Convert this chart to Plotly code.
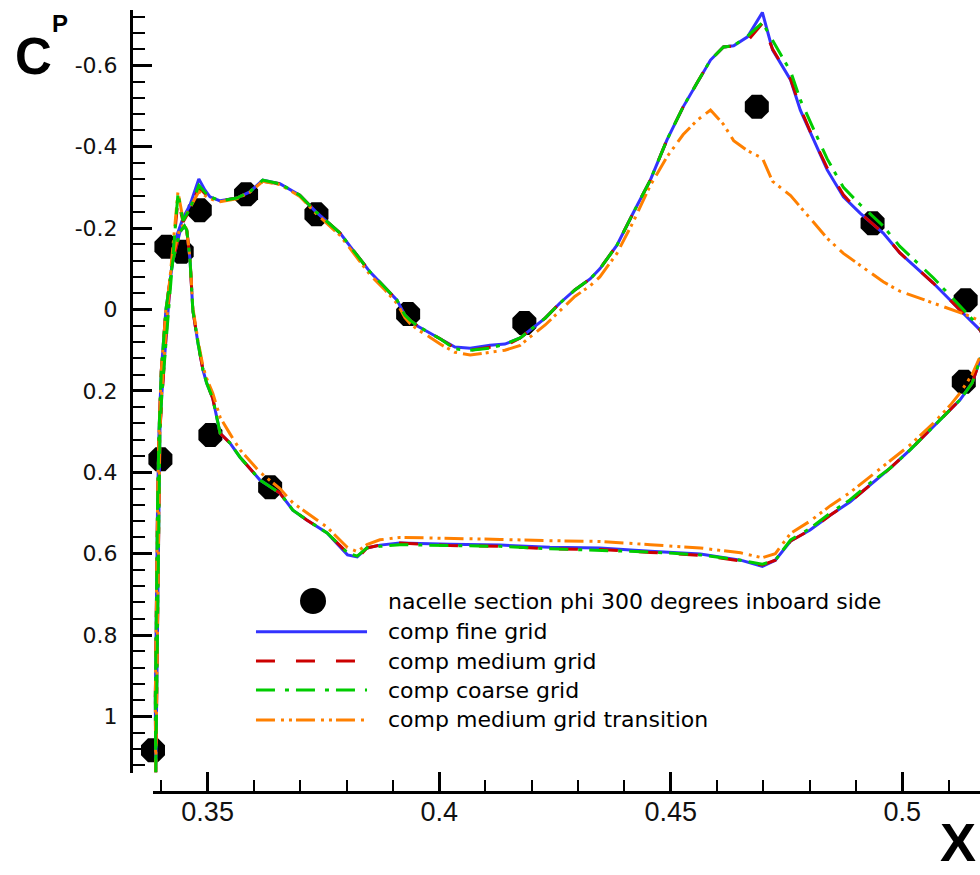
import plotly.graph_objects as go

# ---------------------------------------------------------------
# Pressure coefficient around the nacelle section, phi = 300 deg
# ---------------------------------------------------------------

# measured points
EXP_X = [0.3382, 0.3398, 0.3411, 0.3444, 0.3483, 0.3506, 0.3583, 0.3635,
         0.3735, 0.3933, 0.4184, 0.4686, 0.4936, 0.5133, 0.5137]
EXP_CP = [1.083, 0.368, -0.154, -0.142, -0.244, 0.3085, -0.283, 0.437,
          -0.234, 0.011, 0.033, -0.4985, -0.212, 0.1775, -0.023]

# suction side stations (leading edge -> trailing edge)
UPPER_X = [0.3388, 0.3390, 0.3393, 0.3395, 0.3397, 0.3401, 0.3410, 0.3419,
           0.3427, 0.3436, 0.3447, 0.3462, 0.3481, 0.3494, 0.3505, 0.3527,
           0.3563, 0.3591, 0.3619, 0.3656, 0.3699, 0.3734, 0.3786, 0.3814,
           0.3851, 0.3883, 0.3909, 0.3926, 0.3937, 0.3954, 0.3980, 0.4002,
           0.4034, 0.4067, 0.4110, 0.4142, 0.4175, 0.4196, 0.4229, 0.4261,
           0.4293, 0.4326, 0.4347, 0.4384, 0.4419, 0.4456, 0.4492, 0.4527,
           0.4557, 0.4586, 0.4614, 0.4636, 0.4666, 0.4698, 0.4720, 0.4759,
           0.4780, 0.4808, 0.4838, 0.4873, 0.4909, 0.4959, 0.4995, 0.5067,
           0.5136, 0.5168, 0.5185]

FINE_UPPER = [1.137, 0.960, 0.714, 0.468, 0.296, 0.210, 0.068, -0.065,
              -0.159, -0.190, -0.225, -0.257, -0.321, -0.294, -0.277, -0.267,
              -0.274, -0.289, -0.318, -0.309, -0.281, -0.240, -0.188, -0.146,
              -0.092, -0.055, -0.023, 0.014, 0.026, 0.041, 0.058, 0.072,
              0.092, 0.095, 0.088, 0.085, 0.070, 0.050, 0.021, -0.016,
              -0.048, -0.075, -0.100, -0.158, -0.237, -0.318, -0.417, -0.498,
              -0.557, -0.613, -0.645, -0.648, -0.670, -0.730, -0.638, -0.564,
              -0.490, -0.417, -0.343, -0.277, -0.237, -0.188, -0.139, -0.065,
              0.014, 0.050, 0.087]

MEDIUM_UPPER = [1.137, 0.960, 0.714, 0.468, 0.296, 0.210, 0.068, -0.065,
                -0.159, -0.270, -0.215, -0.245, -0.300, -0.285, -0.277, -0.267,
                -0.274, -0.289, -0.315, -0.309, -0.281, -0.240, -0.188, -0.146,
                -0.092, -0.055, -0.023, 0.014, 0.026, 0.041, 0.058, 0.072,
                0.095, 0.100, 0.093, 0.090, 0.070, 0.050, 0.021, -0.016,
                -0.048, -0.075, -0.100, -0.158, -0.237, -0.318, -0.417, -0.498,
                -0.557, -0.613, -0.645, -0.648, -0.660, -0.703, -0.640, -0.566,
                -0.495, -0.420, -0.348, -0.282, -0.237, -0.188, -0.139, -0.065,
                0.014, 0.050, 0.087]

COARSE_UPPER = [1.137, 0.960, 0.714, 0.468, 0.296, 0.210, 0.068, -0.065,
                -0.159, -0.285, -0.218, -0.248, -0.305, -0.288, -0.277, -0.267,
                -0.274, -0.289, -0.318, -0.309, -0.281, -0.240, -0.188, -0.146,
                -0.092, -0.055, -0.023, 0.014, 0.026, 0.041, 0.058, 0.072,
                0.097, 0.100, 0.095, 0.085, 0.070, 0.050, 0.021, -0.016,
                -0.048, -0.075, -0.100, -0.158, -0.237, -0.318, -0.417, -0.498,
                -0.557, -0.613, -0.645, -0.648, -0.672, -0.705, -0.660, -0.585,
                -0.515, -0.445, -0.370, -0.300, -0.258, -0.205, -0.155, -0.078,
                0.005, 0.045, 0.087]

TRANSITION_UPPER = [1.137, 0.960, 0.714, 0.468, 0.296, 0.200, 0.050, -0.080,
                    -0.180, -0.290, -0.220, -0.250, -0.290, -0.280, -0.272, -0.265,
                    -0.272, -0.288, -0.315, -0.307, -0.278, -0.236, -0.182, -0.140,
                    -0.085, -0.048, -0.015, 0.020, 0.034, 0.050, 0.068, 0.085,
                    0.105, 0.112, 0.105, 0.100, 0.088, 0.068, 0.038, 0.002,
                    -0.032, -0.058, -0.080, -0.138, -0.215, -0.305, -0.375, -0.430,
                    -0.465, -0.490, -0.455, -0.415, -0.390, -0.372, -0.315, -0.280,
                    -0.253, -0.215, -0.175, -0.138, -0.110, -0.068, -0.045, -0.015,
                    0.012, 0.028, 0.075]

# pressure side stations (leading edge -> trailing edge)
LOWER_X = [0.3388, 0.3387, 0.3389, 0.3392, 0.3395, 0.3400, 0.3410, 0.3425,
           0.3440, 0.3450, 0.3455, 0.3462, 0.3468, 0.3479, 0.3490, 0.3498,
           0.3511, 0.3527, 0.3548, 0.3570, 0.3613, 0.3656, 0.3684, 0.3714,
           0.3758, 0.3802, 0.3823, 0.3844, 0.3872, 0.3915, 0.4023, 0.4132,
           0.4239, 0.4347, 0.4456, 0.4564, 0.4651, 0.4698, 0.4726, 0.4759,
           0.4801, 0.4845, 0.4887, 0.4931, 0.4974, 0.5017, 0.5067, 0.5104,
           0.5125, 0.5151, 0.5168, 0.5185]

FINE_LOWER = [1.137, 0.960, 0.714, 0.468, 0.300, 0.150, 0.000, -0.120,
              -0.190, -0.205, -0.195, -0.122, 0.001, 0.082, 0.149, 0.181,
              0.218, 0.304, 0.328, 0.363, 0.419, 0.451, 0.493, 0.517,
              0.549, 0.603, 0.608, 0.586, 0.579, 0.574, 0.577, 0.579,
              0.584, 0.586, 0.594, 0.601, 0.616, 0.631, 0.616, 0.569,
              0.542, 0.505, 0.473, 0.431, 0.390, 0.345, 0.289, 0.247,
              0.222, 0.181, 0.124, 0.087]

MEDIUM_LOWER = [1.137, 0.960, 0.714, 0.468, 0.300, 0.150, 0.000, -0.120,
                -0.190, -0.205, -0.195, -0.122, 0.001, 0.082, 0.149, 0.181,
                0.218, 0.304, 0.328, 0.363, 0.419, 0.451, 0.493, 0.517,
                0.549, 0.598, 0.612, 0.586, 0.579, 0.574, 0.580, 0.582,
                0.588, 0.590, 0.597, 0.604, 0.618, 0.628, 0.616, 0.569,
                0.542, 0.505, 0.473, 0.431, 0.390, 0.345, 0.289, 0.247,
                0.222, 0.181, 0.124, 0.087]

COARSE_LOWER = [1.137, 0.960, 0.714, 0.468, 0.300, 0.150, 0.000, -0.120,
                -0.190, -0.205, -0.195, -0.122, 0.001, 0.082, 0.149, 0.181,
                0.218, 0.304, 0.328, 0.363, 0.419, 0.451, 0.493, 0.517,
                0.549, 0.598, 0.606, 0.586, 0.582, 0.578, 0.580, 0.582,
                0.588, 0.592, 0.596, 0.603, 0.616, 0.626, 0.616, 0.566,
                0.538, 0.500, 0.468, 0.426, 0.390, 0.345, 0.289, 0.247,
                0.222, 0.181, 0.124, 0.087]

TRANSITION_LOWER = [1.137, 0.960, 0.714, 0.468, 0.300, 0.150, 0.000, -0.130,
                    -0.200, -0.210, -0.195, -0.125, -0.005, 0.075, 0.140, 0.170,
                    0.205, 0.265, 0.305, 0.345, 0.400, 0.440, 0.475, 0.500,
                    0.535, 0.585, 0.595, 0.578, 0.566, 0.560, 0.562, 0.565,
                    0.568, 0.570, 0.578, 0.586, 0.598, 0.610, 0.600, 0.550,
                    0.520, 0.482, 0.450, 0.410, 0.372, 0.333, 0.280, 0.235,
                    0.205, 0.160, 0.116, 0.075]

SERIES = [
    ("comp fine grid", FINE_UPPER, FINE_LOWER, "#3333ff", "solid"),
    ("comp medium grid", MEDIUM_UPPER, MEDIUM_LOWER, "#cc0000", "19px,21px"),
    ("comp medium grid transition", TRANSITION_UPPER, TRANSITION_LOWER,
     "#ff8000", "19px,6px,3px,5px,3px,4px"),
    ("comp coarse grid", COARSE_UPPER, COARSE_LOWER, "#00cc00",
     "19px,10px,4px,7px"),
]

EXP_NAME = "nacelle section phi 300 degrees inboard side"
LEGEND_ORDER = [
    ("comp fine grid", "#3333ff", "solid"),
    ("comp medium grid", "#cc0000", "19px,21px"),
    ("comp coarse grid", "#00cc00", "19px,10px,4px,7px"),
    ("comp medium grid transition", "#ff8000", "19px,6px,3px,5px,3px,4px"),
]

fig = go.Figure()

fig.add_trace(go.Scatter(
    x=EXP_X, y=EXP_CP, mode="markers", name=EXP_NAME, cliponaxis=False,
    marker=dict(symbol="octagon", size=26, color="black",
                line=dict(width=0)),
))

# closed loop: suction side from trailing edge back to the nose,
# then pressure side out to the trailing edge
for name, up, lo, color, dash in SERIES:
    fig.add_trace(go.Scatter(
        x=UPPER_X[::-1] + LOWER_X[1:],
        y=up[::-1] + lo[1:],
        mode="lines", name=name,
        line=dict(color=color, width=3, dash=dash),
    ))

MINUS = "\u2212"
fig.update_layout(
    width=980, height=875,
    margin=dict(l=131, r=0, t=10, b=83, pad=0),
    showlegend=False,
    plot_bgcolor="white", paper_bgcolor="white",
    xaxis=dict(
        domain=[0.0259, 1], range=[0.3382, 0.5168],
        anchor="free", position=0,
        showline=True, linecolor="black", linewidth=3,
        ticks="inside", ticklen=19, tickwidth=3, tickcolor="black",
        tick0=0, dtick=0.05,
        tickfont=dict(family="Liberation Sans, Arial", size=27, color="#111"),
        ticklabelstandoff=-5,
        showgrid=False, zeroline=False,
        minor=dict(dtick=0.01, ticks="inside", ticklen=11, tickwidth=1.5,
                   tickcolor="black", showgrid=False),
    ),
    yaxis=dict(
        domain=[0.0243, 1], range=[1.139, -0.736],
        anchor="free", position=0,
        showline=True, linecolor="black", linewidth=3,
        ticks="inside", ticklen=19, tickwidth=3, tickcolor="black",
        tick0=0, dtick=0.2,
        labelalias={MINUS + "0.6": "-0.6", MINUS + "0.4": "-0.4",
                    MINUS + "0.2": "-0.2"},
        tickfont=dict(family="DejaVu Sans", size=22, color="#111"),
        ticklabelstandoff=8,
        showgrid=False, zeroline=False,
        minor=dict(dtick=0.04, ticks="inside", ticklen=12, tickwidth=1.5,
                   tickcolor="black", showgrid=False),
    ),
)

# axis titles
fig.add_annotation(text="<b>C</b>", xref="paper", yref="paper",
                   x=-0.1143, y=0.9405, xanchor="center", yanchor="middle",
                   showarrow=False,
                   font=dict(family="Liberation Sans, Arial", size=51,
                             color="black"))
fig.add_annotation(text="<b>P</b>", xref="paper", yref="paper",
                   x=-0.0842, y=0.9827, xanchor="center", yanchor="middle",
                   showarrow=False,
                   font=dict(family="Liberation Sans, Arial", size=24,
                             color="black"))
fig.add_annotation(text="<b>X</b>", xref="paper", yref="paper",
                   x=0.998, y=-0.1049, xanchor="right", yanchor="bottom",
                   showarrow=False,
                   font=dict(family="Liberation Sans, Arial", size=54,
                             color="black"))

# legend block
LEG_FONT = dict(family="DejaVu Sans", size=22, color="black")
LEG_TEXT_X = 0.300
LEG_LINE_X = (0.1472, 0.2780)
LEG_ROWS = [0.2434, 0.2050, 0.1675, 0.1304, 0.0921]

fig.add_shape(type="circle", xref="paper", yref="paper",
              x0=0.1991, x1=0.2297, y0=0.2276, y1=0.2609,
              fillcolor="black", line=dict(width=0))
fig.add_annotation(text=EXP_NAME, xref="paper", yref="paper",
                   x=LEG_TEXT_X, y=LEG_ROWS[0], xanchor="left",
                   yanchor="middle", showarrow=False, font=LEG_FONT)
for (name, color, dash), row in zip(LEGEND_ORDER, LEG_ROWS[1:]):
    fig.add_shape(type="line", xref="paper", yref="paper",
                  x0=LEG_LINE_X[0], x1=LEG_LINE_X[1], y0=row, y1=row,
                  line=dict(color=color, width=3, dash=dash))
    fig.add_annotation(text=name, xref="paper", yref="paper",
                       x=LEG_TEXT_X, y=row, xanchor="left",
                       yanchor="middle", showarrow=False, font=LEG_FONT)

fig.write_html("out.html")
